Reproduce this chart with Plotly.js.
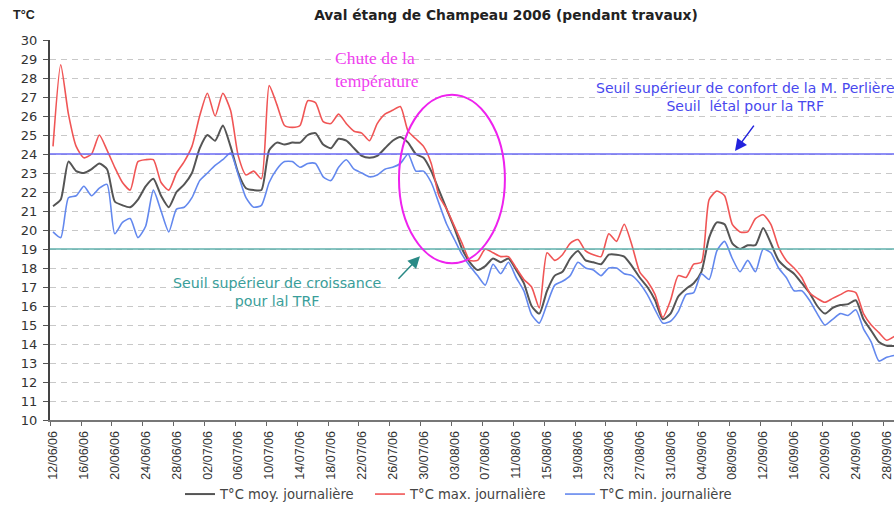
<!DOCTYPE html>
<html>
<head>
<meta charset="utf-8">
<script src="https://cdn.plot.ly/plotly-3.0.1.min.js"></script>
<style>html,body{margin:0;padding:0;background:#fff;}#chart{width:894px;height:510px;}</style>
</head>
<body>
<div id="chart"></div>
<script>
// ---- Data ----
const startDate = '2006-06-12';   // first daily value
const tMoy = [21.25,21.6,23.6,23.1,23.0,23.2,23.5,23.2,21.5,21.3,
  21.2,21.6,22.3,22.7,21.8,21.2,22.0,22.4,23.0,24.3,
  25.0,24.7,25.5,24.4,23.0,22.2,22.1,22.1,24.2,24.6,
  24.5,24.6,24.6,25.0,25.1,24.5,24.3,24.8,24.7,24.3,
  23.9,23.8,23.9,24.3,24.7,24.9,24.6,24.0,23.8,23.1,
  22.1,21.1,20.1,19.0,18.3,17.9,18.1,18.5,18.3,18.5,
  17.9,17.2,16.0,15.6,16.8,17.6,17.8,18.5,18.9,18.4,
  18.3,18.2,18.7,18.7,18.6,18.1,17.5,17.0,16.3,15.3,
  15.6,16.5,16.9,17.2,17.8,19.6,20.4,20.3,19.3,19.0,
  19.2,19.2,20.1,19.3,18.4,18.0,17.7,17.2,16.7,16.0,
  15.6,15.9,16.05,16.1,16.3,15.3,14.7,14.1,13.9,13.9];
const tMax = [24.4,28.7,26.1,24.4,23.8,24.0,25.0,24.2,23.3,22.5,
  22.1,23.6,23.7,23.7,22.5,22.1,23.0,23.6,24.4,26.0,
  27.2,26.0,27.2,26.3,23.9,22.9,23.1,22.7,27.6,26.6,
  25.5,25.4,25.5,26.8,26.7,25.7,25.6,26.1,25.6,25.2,
  25.1,24.7,25.6,26.1,26.3,26.5,25.2,24.8,24.4,23.5,
  21.8,21.1,20.2,19.3,18.4,18.4,19.0,18.8,18.6,18.6,
  18.0,17.4,17.0,15.9,18.8,18.4,18.7,19.3,19.5,18.9,
  18.7,18.6,19.8,19.4,20.3,19.2,17.8,17.3,16.6,15.4,
  16.3,17.6,17.5,18.2,18.3,21.6,22.05,21.8,20.3,19.9,
  19.9,20.6,20.8,20.3,19.1,18.4,18.0,17.5,16.7,16.4,
  16.2,16.4,16.6,16.8,16.7,15.6,15.0,14.6,14.2,14.4];
const tMin = [19.9,19.6,21.7,21.8,22.3,21.8,22.2,22.4,19.8,20.4,
  20.6,19.6,20.2,22.1,21.0,19.9,21.1,21.2,21.7,22.6,
  23.0,23.4,23.7,24.05,22.9,21.7,21.2,21.3,22.5,23.2,
  23.6,23.6,23.3,23.5,23.5,22.8,22.6,23.3,23.7,23.2,
  23.0,22.8,22.9,23.2,23.3,23.5,24.0,23.1,23.1,22.5,
  21.4,20.3,19.5,18.7,18.1,17.6,17.1,18.2,17.7,18.3,
  17.5,16.8,15.55,15.1,16.1,17.1,17.3,17.6,18.3,18.0,
  17.9,17.6,18.0,18.0,17.7,17.6,17.2,16.6,15.8,15.1,
  15.2,15.7,16.6,16.7,17.7,17.4,18.9,19.4,18.5,17.8,
  18.4,17.8,19.0,18.8,18.0,17.5,16.8,16.8,16.3,15.6,
  15.0,15.3,15.6,15.5,15.8,14.8,14.1,13.1,13.3,13.4];
const seriesNames = ['T°C moy. journalière','T°C max. journalière','T°C min. journalière'];
const tickLabels = ['12/06/06','16/06/06','20/06/06','24/06/06','28/06/06','02/07/06','06/07/06',
  '10/07/06','14/07/06','18/07/06','22/07/06','26/07/06','30/07/06','03/08/06','07/08/06',
  '11/08/06','15/08/06','19/08/06','23/08/06','27/08/06','31/08/06','04/09/06','08/09/06',
  '12/09/06','16/09/06','20/09/06','24/09/06','28/09/06'];
const seuilConfort = 24;     // Seuil supérieur de confort / létal TRF
const seuilCroissance = 19;  // Seuil supérieur de croissance TRF

// ---- Build ----
const DAY = 86400000;
const t0 = Date.parse(startDate + 'T00:00:00Z');
function iso(ms){ return new Date(ms).toISOString().replace('T',' ').slice(0,19); }
const xDates = tMoy.map((_, i) => iso(t0 + i*DAY));
// tick marks sit slightly before each labelled day (Excel category style)
const tickVals = tickLabels.map((_, k) => iso(t0 + k*4*DAY - 0.37*DAY));

const lineShape = {shape:'spline', smoothing:0.6};
const traces = [
  {x:xDates, y:tMoy, name:seriesNames[0], type:'scatter', mode:'lines',
   line:Object.assign({color:'#555555', width:2}, lineShape)},
  {x:xDates, y:tMax, name:seriesNames[1], type:'scatter', mode:'lines',
   line:Object.assign({color:'#f05555', width:1.6}, lineShape)},
  {x:xDates, y:tMin, name:seriesNames[2], type:'scatter', mode:'lines',
   line:Object.assign({color:'#6388ee', width:1.6}, lineShape)}
];

const FONT = 'Liberation Sans, Arial, sans-serif';
const WIDE = 'DejaVu Sans, Verdana, sans-serif';
const layout = {
  width:894, height:510,
  margin:{l:50, r:0, t:40, b:87},
  paper_bgcolor:'#ffffff', plot_bgcolor:'#ffffff',
  font:{family:FONT, color:'#333333', size:12},
  showlegend:true,
  legend:{orientation:'h', x:0.154, xanchor:'left', y:-0.196, yanchor:'middle',
          entrywidth:145, entrywidthmode:'pixels', itemwidth:30,
          font:{family:WIDE, size:13.2, color:'#444444'}, bgcolor:'rgba(0,0,0,0)'},
  title:{text:'<b>Aval étang de Champeau 2006 (pendant travaux)</b>', x:0.566, xanchor:'center',
         xref:'container', y:0.9706, yanchor:'middle', font:{family:WIDE, size:13.8, color:'#222222'}},
  xaxis:{type:'date',
         range:[iso(t0 - 0.39*DAY), iso(t0 + 108.95*DAY)],
         tickmode:'array', tickvals:tickVals, ticktext:tickLabels, ticklabelshift:3,
         tickangle:-90, ticks:'outside', ticklen:4, tickcolor:'#666666',
         showline:true, linecolor:'#777777', linewidth:2, showgrid:false, zeroline:false,
         tickfont:{family:FONT, size:12.5, color:'#333333'}},
  yaxis:{range:[10,30], dtick:1, tick0:10, ticks:'outside', ticklen:5, tickcolor:'#555555',
         ticklabelstandoff:3,
         showline:true, linecolor:'#444444', linewidth:2,
         showgrid:true, gridcolor:'#c8c8c8', griddash:'6px,5px', gridwidth:1, zeroline:false,
         tickfont:{family:WIDE, size:13, color:'#333333'}},
  shapes:[
    {type:'line', xref:'paper', x0:0, x1:1, yref:'y', y0:seuilConfort, y1:seuilConfort,
     line:{color:'#6a6af5', width:1.6}},
    {type:'line', xref:'paper', x0:0, x1:1, yref:'y', y0:seuilCroissance, y1:seuilCroissance,
     line:{color:'#5fb0ac', width:1.6}},
    {type:'circle', xref:'paper', yref:'paper', x0:0.4135, x1:0.539, y0:0.4125, y1:0.856,
     line:{color:'#ee22ee', width:2}}
  ],
  annotations:[
    {xref:'paper', yref:'paper', x:-0.046, y:1.065, xanchor:'left', yanchor:'middle',
     text:'<b>T°C</b>', showarrow:false, font:{family:FONT, size:12.5, color:'#222222'}},
    {xref:'paper', yref:'paper', x:0.3353, y:0.9217, xanchor:'left', yanchor:'middle', align:'left',
     text:'Chute de la<br>température', showarrow:false,
     font:{family:'Liberation Serif, Times New Roman, serif', size:17.5, color:'#f040f0'}},
    {xref:'paper', yref:'paper', x:0.8235, y:0.851, xanchor:'center', yanchor:'middle', align:'center',
     text:'Seuil supérieur de confort de la M. Perlière<br>Seuil  létal pour la TRF', showarrow:false,
     font:{family:WIDE, size:14, color:'#4848ee'}},
    {xref:'paper', yref:'paper', x:0.8116, y:0.7076, ax:20, ay:-27, text:'', showarrow:true,
     arrowhead:2, arrowsize:1.6, arrowwidth:1.5, arrowcolor:'#2222dd'},
    {xref:'paper', yref:'paper', x:0.269, y:0.3368, xanchor:'center', yanchor:'middle', align:'center',
     text:'Seuil supérieur de croissance<br>pour lal TRF', showarrow:false,
     font:{family:WIDE, size:14.2, color:'#3a9e9a'}},
    {xref:'paper', yref:'paper', x:0.4384, y:0.4308, ax:-23, ay:24, text:'', showarrow:true,
     arrowhead:2, arrowsize:1.6, arrowwidth:1.5, arrowcolor:'#2a8a86'}
  ]
};

Plotly.newPlot('chart', traces, layout, {displayModeBar:false, staticPlot:true});
</script>
</body>
</html>
